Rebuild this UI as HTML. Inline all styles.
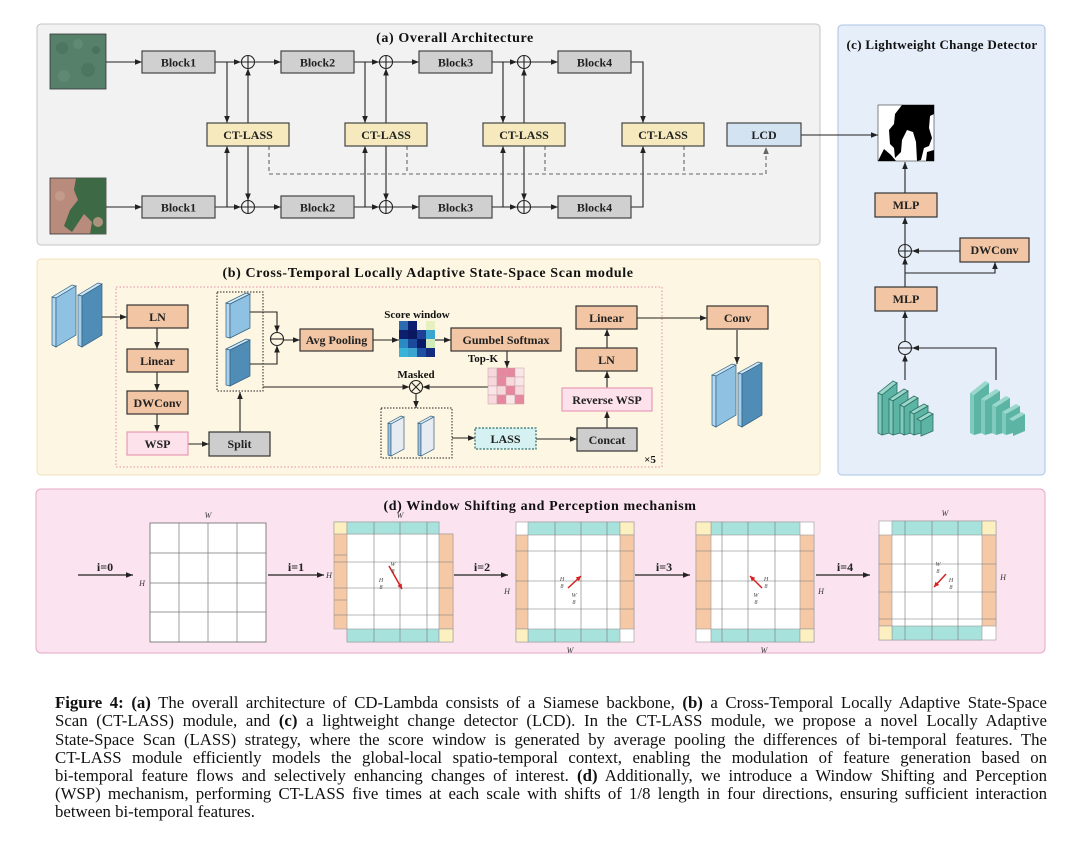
<!DOCTYPE html>
<html><head><meta charset="utf-8"><style>
html,body{margin:0;padding:0;background:#fff;}
body{width:1080px;height:863px;position:relative;overflow:hidden;font-family:"Liberation Serif",serif;}
svg{position:absolute;left:0;top:0;}
.cap{position:absolute;left:55px;width:992px;font-size:16.8px;line-height:18px;color:#111;text-align:justify;text-align-last:justify;white-space:nowrap;}
.cap b{font-weight:bold;}
.bx{font-family:"Liberation Serif",serif;font-weight:bold;font-size:12px;fill:#222;text-anchor:middle;}
.tt{font-family:"Liberation Serif",serif;font-weight:bold;font-size:14px;fill:#111;text-anchor:middle;letter-spacing:0.6px;}
.lb{font-family:"Liberation Serif",serif;font-weight:bold;font-size:11px;fill:#111;text-anchor:middle;}
.it{font-family:"Liberation Serif",serif;font-style:italic;font-size:8px;fill:#333;text-anchor:middle;}
.fr{font-family:"Liberation Serif",serif;font-style:italic;font-size:6px;fill:#444;text-anchor:middle;}
</style></head><body>
<svg width="1080" height="863" viewBox="0 0 1080 863" xmlns="http://www.w3.org/2000/svg">
<defs>
<marker id="ah" markerWidth="8" markerHeight="8" refX="7" refY="4" orient="auto" markerUnits="userSpaceOnUse"><path d="M0,1.2 L7,4 L0,6.8z" fill="#222"/></marker>
<marker id="ahg" markerWidth="8" markerHeight="8" refX="7" refY="4" orient="auto" markerUnits="userSpaceOnUse"><path d="M0,1.2 L7,4 L0,6.8z" fill="#666"/></marker>
<marker id="ahr" markerWidth="6" markerHeight="6" refX="5" refY="3" orient="auto" markerUnits="userSpaceOnUse"><path d="M0,0.5 L5,3 L0,5.5z" fill="#d62020"/></marker>
</defs>

<!-- ============ PANEL A ============ -->
<rect x="37" y="24" width="783" height="221" rx="4" fill="#f2f2f2" stroke="#c4c4c4"/>
<text x="455" y="42" class="tt">(a) Overall Architecture</text>
<!-- PANEL C bg -->
<rect x="838" y="25" width="207" height="450" rx="4" fill="#e6eefa" stroke="#a9c4e4"/>

<!-- images -->
<rect x="50" y="34" width="56" height="55" fill="#56806a" stroke="#333" stroke-width="0.8"/>
<circle cx="62" cy="48" r="6" fill="#436a55" opacity="0.5"/><circle cx="88" cy="70" r="7" fill="#446b57" opacity="0.5"/>
<circle cx="78" cy="44" r="5" fill="#6d927d" opacity="0.5"/><circle cx="64" cy="76" r="6" fill="#6b8f7a" opacity="0.5"/>
<circle cx="96" cy="50" r="4" fill="#3e6350" opacity="0.5"/>
<rect x="50" y="178" width="56" height="56" fill="#b88b7c" stroke="#333" stroke-width="0.8"/>
<path d="M76,178 L106,178 L106,234 L90,234 L92,222 L84,214 L72,232 L64,226 L70,210 L78,200 L74,190z" fill="#3d6a45"/>
<circle cx="60" cy="196" r="5" fill="#c9a192" opacity="0.7"/><circle cx="98" cy="222" r="5" fill="#c59c8c" opacity="0.8"/>

<g fill="none" stroke="#222" stroke-width="1.1">
<line x1="106" y1="62" x2="142" y2="62" marker-end="url(#ah)"/>
<line x1="215" y1="62" x2="241" y2="62" marker-end="url(#ah)"/>
<line x1="254.5" y1="62" x2="281" y2="62" marker-end="url(#ah)"/>
<line x1="354" y1="62" x2="379" y2="62" marker-end="url(#ah)"/>
<line x1="392.5" y1="62" x2="419" y2="62" marker-end="url(#ah)"/>
<line x1="492" y1="62" x2="517" y2="62" marker-end="url(#ah)"/>
<line x1="530.5" y1="62" x2="558" y2="62" marker-end="url(#ah)"/>
<polyline points="631,62 643,62 643,123" marker-end="url(#ah)"/>
<line x1="106" y1="207" x2="142" y2="207" marker-end="url(#ah)"/>
<line x1="215" y1="207" x2="241" y2="207" marker-end="url(#ah)"/>
<line x1="254.5" y1="207" x2="281" y2="207" marker-end="url(#ah)"/>
<line x1="354" y1="207" x2="379" y2="207" marker-end="url(#ah)"/>
<line x1="392.5" y1="207" x2="419" y2="207" marker-end="url(#ah)"/>
<line x1="492" y1="207" x2="517" y2="207" marker-end="url(#ah)"/>
<line x1="530.5" y1="207" x2="558" y2="207" marker-end="url(#ah)"/>
<polyline points="631,207 643,207 643,146" marker-end="url(#ah)"/>
<line x1="227" y1="62" x2="227" y2="123" marker-end="url(#ah)"/>
<line x1="248" y1="123" x2="248" y2="68.5" marker-end="url(#ah)"/>
<line x1="227" y1="207" x2="227" y2="146" marker-end="url(#ah)"/>
<line x1="248" y1="146" x2="248" y2="200.5" marker-end="url(#ah)"/>
<line x1="365" y1="62" x2="365" y2="123" marker-end="url(#ah)"/>
<line x1="386" y1="123" x2="386" y2="68.5" marker-end="url(#ah)"/>
<line x1="365" y1="207" x2="365" y2="146" marker-end="url(#ah)"/>
<line x1="386" y1="146" x2="386" y2="200.5" marker-end="url(#ah)"/>
<line x1="503" y1="62" x2="503" y2="123" marker-end="url(#ah)"/>
<line x1="524" y1="123" x2="524" y2="68.5" marker-end="url(#ah)"/>
<line x1="503" y1="207" x2="503" y2="146" marker-end="url(#ah)"/>
<line x1="524" y1="146" x2="524" y2="200.5" marker-end="url(#ah)"/>
<circle cx="248" cy="62" r="6.5"/><path d="M241.5,62h13M248,55.5v13"/>
<circle cx="386" cy="62" r="6.5"/><path d="M379.5,62h13M386,55.5v13"/>
<circle cx="524" cy="62" r="6.5"/><path d="M517.5,62h13M524,55.5v13"/>
<circle cx="248" cy="207" r="6.5"/><path d="M241.5,207h13M248,200.5v13"/>
<circle cx="386" cy="207" r="6.5"/><path d="M379.5,207h13M386,200.5v13"/>
<circle cx="524" cy="207" r="6.5"/><path d="M517.5,207h13M524,200.5v13"/>
<line x1="801" y1="135" x2="878" y2="135" marker-end="url(#ah)"/>
</g>
<g fill="none" stroke="#666" stroke-width="1.1" stroke-dasharray="4,3">
<line x1="269" y1="146" x2="269" y2="174"/>
<line x1="407" y1="146" x2="407" y2="174"/>
<line x1="545" y1="146" x2="545" y2="174"/>
<line x1="684" y1="146" x2="684" y2="174"/>
<polyline points="269,174 766,174 766,147" marker-end="url(#ahg)"/>
</g>
<g stroke="#444" stroke-width="1.2">
<rect x="142" y="51" width="73" height="22" fill="#d0d0d0"/>
<rect x="281" y="51" width="73" height="22" fill="#d0d0d0"/>
<rect x="419" y="51" width="73" height="22" fill="#d0d0d0"/>
<rect x="558" y="51" width="73" height="22" fill="#d0d0d0"/>
<rect x="142" y="196" width="73" height="22" fill="#d0d0d0"/>
<rect x="281" y="196" width="73" height="22" fill="#d0d0d0"/>
<rect x="419" y="196" width="73" height="22" fill="#d0d0d0"/>
<rect x="558" y="196" width="73" height="22" fill="#d0d0d0"/>
<rect x="207" y="123" width="82" height="23" fill="#f5e9bd"/>
<rect x="345" y="123" width="82" height="23" fill="#f5e9bd"/>
<rect x="483" y="123" width="82" height="23" fill="#f5e9bd"/>
<rect x="622" y="123" width="82" height="23" fill="#f5e9bd"/>
<rect x="727" y="123" width="74" height="23" fill="#d3e3f2"/>
</g>
<text x="178.5" y="66.5" class="bx">Block1</text><text x="317.5" y="66.5" class="bx">Block2</text><text x="455.5" y="66.5" class="bx">Block3</text><text x="594.5" y="66.5" class="bx">Block4</text>
<text x="178.5" y="211.5" class="bx">Block1</text><text x="317.5" y="211.5" class="bx">Block2</text><text x="455.5" y="211.5" class="bx">Block3</text><text x="594.5" y="211.5" class="bx">Block4</text>
<text x="248" y="139" class="bx">CT-LASS</text><text x="386" y="139" class="bx">CT-LASS</text><text x="524" y="139" class="bx">CT-LASS</text><text x="663" y="139" class="bx">CT-LASS</text>
<text x="764" y="139" class="bx">LCD</text>

<!-- ============ PANEL C ============ -->
<text x="942" y="49" class="tt" style="font-size:13px;letter-spacing:0.3px">(c) Lightweight Change Detector</text>
<rect x="878" y="105" width="56" height="56" fill="#fff" stroke="#333" stroke-width="0.6"/>
<path d="M902,105 L934,105 L934,114 L930,116 L929,128 L932,138 L929,146 L924,148 L921,160 L917,161 L916,142 L913,132 L907,130 L902,140 L901,152 L895,158 L894,148 L890,144 L889,130 L894,124 L895,114z" fill="#000"/>
<path d="M878,161 L884,149 L891,155 L896,161z" fill="#000"/>
<path d="M927,152 L934,150 L934,161 L926,161z" fill="#000"/>
<g fill="none" stroke="#222" stroke-width="1.1">
<line x1="905" y1="193" x2="905" y2="162" marker-end="url(#ah)"/>
<line x1="905" y1="244.5" x2="905" y2="217" marker-end="url(#ah)"/>
<circle cx="905" cy="251" r="6.5"/><path d="M898.5,251h13M905,244.5v13"/>
<line x1="960" y1="251" x2="912" y2="251" marker-end="url(#ah)"/>
<line x1="905" y1="287" x2="905" y2="257.5" marker-end="url(#ah)"/>
<polyline points="905,273 995,273 995,262" marker-end="url(#ah)"/>
<line x1="905" y1="341.5" x2="905" y2="311" marker-end="url(#ah)"/>
<circle cx="905" cy="348" r="6.5"/><path d="M898.5,348h13"/>
<line x1="905" y1="380" x2="905" y2="354.5" marker-end="url(#ah)"/>
<polyline points="996,380 996,348 912,348" marker-end="url(#ah)"/>
</g>
<g stroke="#333" stroke-width="1.2">
<rect x="875" y="193" width="62" height="24" fill="#f2c6a4"/>
<rect x="875" y="287" width="62" height="24" fill="#f2c6a4"/>
<rect x="960" y="238" width="69" height="24" fill="#f2c6a4"/>
</g>
<text x="906" y="209" class="bx">MLP</text><text x="906" y="303" class="bx">MLP</text><text x="994.5" y="254" class="bx">DWConv</text>
<g stroke="#2e6f62" stroke-width="0.8">
<g id="tstack">
<polygon points="878,393 893,381 897,383 882,395" fill="#9ad8cc"/>
<polygon points="882,395 897,383 897,431 882,435" fill="#5cb4a4"/>
<polygon points="878,393 882,395 882,435 878,433" fill="#7fcabc"/>
<polygon points="889,399 904,389 908,391 893,401" fill="#9ad8cc"/>
<polygon points="893,401 908,391 908,431 893,435" fill="#5cb4a4"/>
<polygon points="889,399 893,401 893,435 889,433" fill="#7fcabc"/>
<polygon points="900,405 914,396 918,398 904,407" fill="#9ad8cc"/>
<polygon points="904,407 918,398 918,431 904,435" fill="#5cb4a4"/>
<polygon points="900,405 904,407 904,435 900,433" fill="#7fcabc"/>
<polygon points="910,412 924,404 928,406 914,414" fill="#9ad8cc"/>
<polygon points="914,414 928,406 928,431 914,435" fill="#5cb4a4"/>
<polygon points="910,412 914,414 914,435 910,433" fill="#7fcabc"/>
<polygon points="917,419 929,412 933,414 921,421" fill="#9ad8cc"/>
<polygon points="921,421 933,414 933,431 921,436" fill="#5cb4a4"/>
</g>
</g>
<use href="#tstack" transform="translate(92,0)"/>

<!-- ============ PANEL B ============ -->
<rect x="37" y="259" width="783" height="216" rx="4" fill="#fdf6e2" stroke="#eee2b8"/>
<text x="428" y="277" class="tt">(b) Cross-Temporal Locally Adaptive State-Space Scan module</text>
<rect x="116" y="287" width="546" height="180" fill="none" stroke="#e58aa9" stroke-width="1" stroke-dasharray="1.5,2"/>
<text x="650" y="463" class="lb">×5</text>

<g stroke="#2f5f80" stroke-width="0.7">
<polygon points="52,297 72,285 76,286 56,298" fill="#cfe6f5"/>
<polygon points="52,297 56,298 56,347 52,345" fill="#b5d8ee"/>
<polygon points="56,298 76,286 76,335 56,347" fill="#8fc1e2"/>
<polygon points="78,295 98,283 102,284 82,296" fill="#cfe6f5"/>
<polygon points="78,295 82,296 82,347 78,345" fill="#a9cfe8"/>
<polygon points="82,296 102,284 102,335 82,347" fill="#4f8db7"/>
<polygon points="226,303 246,293 250,294 230,304" fill="#d5ebf7"/>
<polygon points="226,303 230,304 230,338 226,337" fill="#b5d8ee"/>
<polygon points="230,304 250,294 250,328 230,338" fill="#8fc1e2"/>
<polygon points="226,349 246,339 250,340 230,350" fill="#cfe6f5"/>
<polygon points="226,349 230,350 230,386 226,385" fill="#a9cfe8"/>
<polygon points="230,350 250,340 250,376 230,386" fill="#4f8db7"/>
<polygon points="388,423 401,416 404,417 391,424" fill="#dfeaf3"/>
<polygon points="388,423 391,424 391,456 388,455" fill="#9fc3df"/>
<polygon points="391,424 404,417 404,449 391,456" fill="#e6ecf2"/>
<polygon points="418,423 431,416 434,417 421,424" fill="#dfeaf3"/>
<polygon points="418,423 421,424 421,456 418,455" fill="#9fc3df"/>
<polygon points="421,424 434,417 434,449 421,456" fill="#e6ecf2"/>
<polygon points="712,375 732,364 736,365 716,376" fill="#cfe6f5"/>
<polygon points="712,375 716,376 716,427 712,425" fill="#b5d8ee"/>
<polygon points="716,376 736,365 736,415 716,427" fill="#8fc1e2"/>
<polygon points="738,373 758,362 762,363 742,374" fill="#cfe6f5"/>
<polygon points="738,373 742,374 742,427 738,425" fill="#a9cfe8"/>
<polygon points="742,374 762,363 762,415 742,427" fill="#4f8db7"/>
</g>
<rect x="217" y="292" width="46" height="99" fill="none" stroke="#222" stroke-width="1" stroke-dasharray="1.5,1.5"/>
<rect x="381" y="408" width="71" height="50" fill="none" stroke="#222" stroke-width="1" stroke-dasharray="1.5,1.5"/>

<g fill="none" stroke="#222" stroke-width="1.1">
<line x1="102" y1="317" x2="127" y2="317" marker-end="url(#ah)"/>
<line x1="157" y1="328" x2="157" y2="349" marker-end="url(#ah)"/>
<line x1="157" y1="372" x2="157" y2="391" marker-end="url(#ah)"/>
<line x1="157" y1="414" x2="157" y2="432" marker-end="url(#ah)"/>
<line x1="187" y1="444" x2="209" y2="444" marker-end="url(#ah)"/>
<line x1="240" y1="432" x2="240" y2="392" marker-end="url(#ah)"/>
<polyline points="250,312 277,312 277,332.5" marker-end="url(#ah)"/>
<polyline points="250,364 277,364 277,345.5" marker-end="url(#ah)"/>
<circle cx="277" cy="339" r="6.5"/><path d="M270.5,339h13"/>
<line x1="283.5" y1="340" x2="300" y2="340" marker-end="url(#ah)"/>
<line x1="373" y1="340" x2="399" y2="340" marker-end="url(#ah)"/>
<line x1="435" y1="340" x2="451" y2="340" marker-end="url(#ah)"/>
<line x1="507" y1="351" x2="507" y2="368" marker-end="url(#ah)"/>
<line x1="263" y1="387" x2="409.5" y2="387" marker-end="url(#ah)"/>
<line x1="488" y1="387" x2="422.5" y2="387" marker-end="url(#ah)"/>
<circle cx="416" cy="387" r="6.5"/><path d="M411.4,382.4l9.2,9.2M420.6,382.4l-9.2,9.2"/>
<line x1="416" y1="393.5" x2="416" y2="408" marker-end="url(#ah)"/>
<line x1="452" y1="438" x2="475" y2="438" marker-end="url(#ah)"/>
<line x1="536" y1="439" x2="577" y2="439" marker-end="url(#ah)"/>
<line x1="607" y1="428" x2="607" y2="411" marker-end="url(#ah)"/>
<line x1="607" y1="388" x2="607" y2="371" marker-end="url(#ah)"/>
<line x1="607" y1="348" x2="607" y2="329" marker-end="url(#ah)"/>
<line x1="637" y1="318" x2="707" y2="318" marker-end="url(#ah)"/>
<line x1="737" y1="330" x2="737" y2="364" marker-end="url(#ah)"/>
</g>
<g stroke="#333" stroke-width="1.2">
<rect x="127" y="305" width="61" height="23" fill="#f2c6a4"/>
<rect x="127" y="349" width="61" height="23" fill="#f2c6a4"/>
<rect x="127" y="391" width="61" height="23" fill="#f2c6a4"/>
<rect x="127" y="432" width="61" height="23" fill="#fde2ec" stroke="#e79bb7"/>
<rect x="209" y="432" width="61" height="24" fill="#cdcdcd"/>
<rect x="300" y="329" width="73" height="22" fill="#f2c6a4"/>
<rect x="451" y="328" width="110" height="23" fill="#f2c6a4"/>
<rect x="475" y="428" width="61" height="21" fill="#d6f1f1" stroke="#2a6f6f" stroke-dasharray="2,1.5"/>
<rect x="577" y="428" width="60" height="23" fill="#cdcdcd"/>
<rect x="562" y="388" width="90" height="23" fill="#fde2ec" stroke="#e79bb7"/>
<rect x="576" y="348" width="61" height="23" fill="#f2c6a4"/>
<rect x="576" y="306" width="61" height="23" fill="#f2c6a4"/>
<rect x="707" y="306" width="61" height="23" fill="#f2c6a4"/>
</g>
<text x="157.5" y="321" class="bx">LN</text>
<text x="157.5" y="365" class="bx">Linear</text>
<text x="157.5" y="407" class="bx">DWConv</text>
<text x="157.5" y="448" class="bx">WSP</text>
<text x="239.5" y="448" class="bx">Split</text>
<text x="336.5" y="344" class="bx">Avg Pooling</text>
<text x="506" y="344" class="bx">Gumbel Softmax</text>
<text x="505.5" y="443" class="bx">LASS</text>
<text x="607" y="444" class="bx">Concat</text>
<text x="607" y="404" class="bx">Reverse WSP</text>
<text x="606.5" y="364" class="bx">LN</text>
<text x="606.5" y="322" class="bx">Linear</text>
<text x="737.5" y="322" class="bx">Conv</text>
<text x="417" y="318" class="lb">Score window</text>
<text x="483" y="362" class="lb">Top-K</text>
<text x="416" y="378" class="lb">Masked</text>
<g>
<rect x="399" y="321" width="9" height="9" fill="#2b6cb0"/><rect x="408" y="321" width="9" height="9" fill="#0d1f6e"/><rect x="426" y="321" width="9" height="9" fill="#e6f0c0"/>
<rect x="399" y="330" width="9" height="9" fill="#0d1f6e"/><rect x="408" y="330" width="9" height="9" fill="#0a1860"/><rect x="417" y="330" width="9" height="9" fill="#1d3f95"/><rect x="426" y="330" width="9" height="9" fill="#3aa6d0"/>
<rect x="399" y="339" width="9" height="9" fill="#2a8ac4"/><rect x="408" y="339" width="9" height="9" fill="#1a4a9c"/><rect x="417" y="339" width="9" height="9" fill="#0b1a66"/><rect x="426" y="339" width="9" height="9" fill="#cfeab8"/>
<rect x="399" y="348" width="9" height="9" fill="#3ab3d8"/><rect x="408" y="348" width="9" height="9" fill="#3aa6d0"/><rect x="417" y="348" width="9" height="9" fill="#1e4fa0"/><rect x="426" y="348" width="9" height="9" fill="#142c80"/>
</g>
<g stroke="#c9a0a8" stroke-width="0.5">
<rect x="488" y="368" width="9" height="9" fill="#f6d8dd"/><rect x="497" y="368" width="9" height="9" fill="#e6879e"/><rect x="506" y="368" width="9" height="9" fill="#e6879e"/><rect x="515" y="368" width="9" height="9" fill="#f9e6e8"/>
<rect x="488" y="377" width="9" height="9" fill="#f6d8dd"/><rect x="497" y="377" width="9" height="9" fill="#e6879e"/><rect x="506" y="377" width="9" height="9" fill="#f6d8dd"/><rect x="515" y="377" width="9" height="9" fill="#f9e6e8"/>
<rect x="488" y="386" width="9" height="9" fill="#f9e6e8"/><rect x="497" y="386" width="9" height="9" fill="#f6d8dd"/><rect x="506" y="386" width="9" height="9" fill="#e6879e"/><rect x="515" y="386" width="9" height="9" fill="#f6d8dd"/>
<rect x="488" y="395" width="9" height="9" fill="#f6d8dd"/><rect x="497" y="395" width="9" height="9" fill="#e6879e"/><rect x="506" y="395" width="9" height="9" fill="#f9e6e8"/><rect x="515" y="395" width="9" height="9" fill="#e6879e"/>
</g>

<!-- ============ PANEL D ============ -->
<rect x="36" y="489" width="1009" height="164" rx="5" fill="#fbe4ef" stroke="#e6a8c6"/>
<text x="540" y="510" class="tt">(d) Window Shifting and Perception mechanism</text>

<rect x="150" y="523" width="116" height="119" fill="#fff" stroke="#666" stroke-width="0.8"/>
<g stroke="#777" stroke-width="0.7">
<path d="M179,523v119M208,523v119M237,523v119M150,553h116M150,583h116M150,612h116"/>
</g>
<text x="208" y="518" class="it">W</text><text x="142" y="586" class="it">H</text>

<g fill="none" stroke="#222" stroke-width="1.2">
<line x1="78" y1="575" x2="133" y2="575" marker-end="url(#ah)"/>
<line x1="268" y1="575" x2="324" y2="575" marker-end="url(#ah)"/>
<line x1="454" y1="575" x2="508" y2="575" marker-end="url(#ah)"/>
<line x1="635" y1="575" x2="690" y2="575" marker-end="url(#ah)"/>
<line x1="816" y1="575" x2="870" y2="575" marker-end="url(#ah)"/>
</g>
<text x="105" y="571" class="bx">i=0</text>
<text x="296" y="571" class="bx">i=1</text>
<text x="482" y="571" class="bx">i=2</text>
<text x="664" y="571" class="bx">i=3</text>
<text x="845" y="571" class="bx">i=4</text>

<g stroke="#999" stroke-width="0.6">
<rect x="334" y="522" width="105" height="107" fill="#f5c9a6"/>
<rect x="347" y="534" width="106" height="108" fill="#fff"/>
<rect x="334" y="522" width="13" height="12" fill="#fdf0c0"/>
<rect x="347" y="522" width="92" height="12" fill="#a8e2dc"/>
<rect x="439" y="534" width="14" height="95" fill="#f5c9a6"/>
<rect x="347" y="629" width="92" height="13" fill="#a8e2dc"/>
<rect x="439" y="629" width="14" height="13" fill="#fdf0c0"/>
<path d="M374,522v120M400,522v120M427,522v120M334,562h119M334,588h119M334,615h119M334,555h13M334,600h13" stroke="#777"/>
</g>
<text x="329" y="578" class="it">H</text><text x="400" y="518" class="it">W</text>
<line x1="389" y1="566" x2="402" y2="589" stroke="#d62020" stroke-width="1.5" marker-end="url(#ahr)"/>
<text x="393" y="566" class="fr">W</text><text x="393" y="573" class="fr">8</text>
<text x="381" y="582" class="fr">H</text><text x="381" y="589" class="fr">8</text>

<g stroke="#999" stroke-width="0.6">
<rect x="516" y="522" width="118" height="120" fill="#fff"/>
<rect x="528" y="522" width="92" height="13" fill="#a8e2dc"/>
<rect x="620" y="522" width="14" height="13" fill="#fdf0c0"/>
<rect x="516" y="535" width="12" height="94" fill="#f5c9a6"/>
<rect x="620" y="535" width="14" height="94" fill="#f5c9a6"/>
<rect x="528" y="629" width="92" height="13" fill="#a8e2dc"/>
<rect x="516" y="629" width="12" height="13" fill="#fdf0c0"/>
<path d="M555,522v120M581,522v120M607,522v120M516,551h118M516,581h118M516,609h118" stroke="#777"/>
</g>
<text x="507" y="594" class="it">H</text><text x="570" y="653" class="it">W</text>
<line x1="568" y1="588" x2="581" y2="576" stroke="#d62020" stroke-width="1.5" marker-end="url(#ahr)"/>
<text x="562" y="581" class="fr">H</text><text x="562" y="588" class="fr">8</text>
<text x="574" y="597" class="fr">W</text><text x="574" y="604" class="fr">8</text>

<g stroke="#999" stroke-width="0.6">
<rect x="696" y="522" width="118" height="120" fill="#fff"/>
<rect x="711" y="522" width="89" height="13" fill="#a8e2dc"/>
<rect x="696" y="522" width="15" height="13" fill="#fdf0c0"/>
<rect x="696" y="535" width="15" height="94" fill="#f5c9a6"/>
<rect x="800" y="535" width="14" height="94" fill="#f5c9a6"/>
<rect x="711" y="629" width="89" height="13" fill="#a8e2dc"/>
<rect x="800" y="629" width="14" height="13" fill="#fdf0c0"/>
<path d="M722,522v120M748,522v120M775,522v120M696,551h118M696,581h118M696,609h118" stroke="#777"/>
</g>
<text x="821" y="594" class="it">H</text><text x="764" y="653" class="it">W</text>
<line x1="762" y1="588" x2="750" y2="576" stroke="#d62020" stroke-width="1.5" marker-end="url(#ahr)"/>
<text x="766" y="581" class="fr">H</text><text x="766" y="588" class="fr">8</text>
<text x="756" y="597" class="fr">W</text><text x="756" y="604" class="fr">8</text>

<g stroke="#999" stroke-width="0.6">
<rect x="879" y="521" width="117" height="119" fill="#fff"/>
<rect x="892" y="521" width="90" height="14" fill="#a8e2dc"/>
<rect x="982" y="521" width="14" height="14" fill="#fdf0c0"/>
<rect x="879" y="535" width="13" height="91" fill="#f5c9a6"/>
<rect x="982" y="535" width="14" height="91" fill="#f5c9a6"/>
<rect x="892" y="626" width="90" height="14" fill="#a8e2dc"/>
<rect x="879" y="626" width="13" height="14" fill="#fdf0c0"/>
<path d="M905,521v119M932,521v119M958,521v119M879,564h117M879,592h117M879,619h117" stroke="#777"/>
</g>
<text x="1003" y="580" class="it">H</text><text x="945" y="516" class="it">W</text>
<line x1="946" y1="574" x2="934" y2="587" stroke="#d62020" stroke-width="1.5" marker-end="url(#ahr)"/>
<text x="938" y="566" class="fr">W</text><text x="938" y="573" class="fr">8</text>
<text x="951" y="582" class="fr">H</text><text x="951" y="589" class="fr">8</text>
</svg>

<div class="cap" style="top:694px"><b>Figure 4:</b> <b>(a)</b> The overall architecture of CD-Lambda consists of a Siamese backbone, <b>(b)</b> a Cross-Temporal Locally Adaptive State-Space</div>
<div class="cap" style="top:712px">Scan (CT-LASS) module, and <b>(c)</b> a lightweight change detector (LCD). In the CT-LASS module, we propose a novel Locally Adaptive</div>
<div class="cap" style="top:731px">State-Space Scan (LASS) strategy, where the score window is generated by average pooling the differences of bi-temporal features. The</div>
<div class="cap" style="top:749px">CT-LASS module efficiently models the global-local spatio-temporal context, enabling the modulation of feature generation based on</div>
<div class="cap" style="top:767px">bi-temporal feature flows and selectively enhancing changes of interest. <b>(d)</b> Additionally, we introduce a Window Shifting and Perception</div>
<div class="cap" style="top:785px">(WSP) mechanism, performing CT-LASS five times at each scale with shifts of 1/8 length in four directions, ensuring sufficient interaction</div>
<div class="cap" style="top:803px;text-align-last:left;">between bi-temporal features.</div>
</body></html>
